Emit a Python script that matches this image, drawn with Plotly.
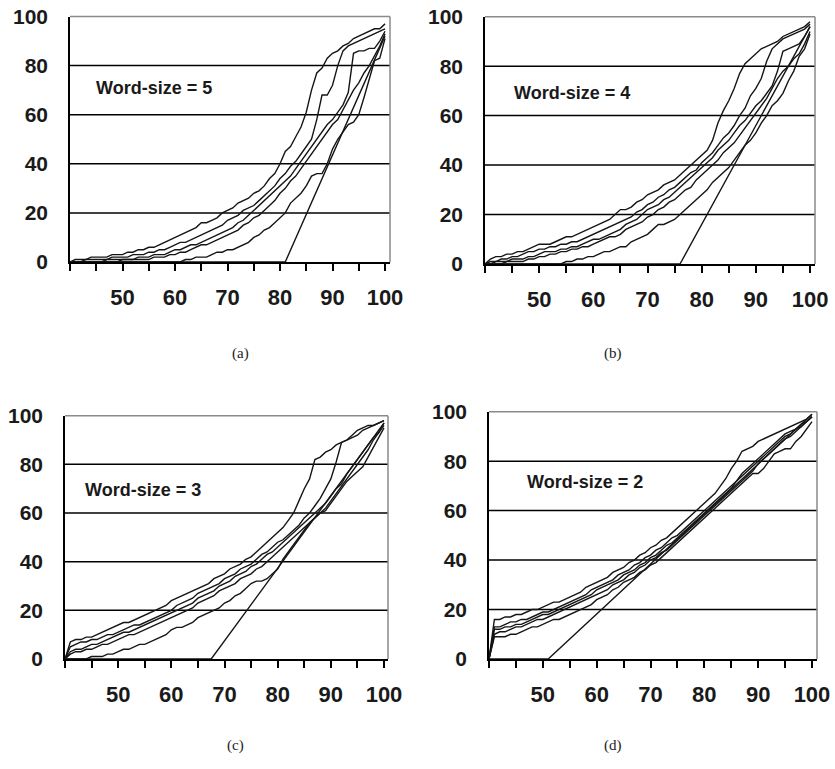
import plotly.graph_objects as go

W, H = 835, 769

# ---------------- data (x = 40 .. 100) ----------------
X = list(range(40, 101))
X_TICKS = list(range(40, 101, 5))
X_TICK_TEXT = ["" if v % 10 or v == 40 else str(v) for v in X_TICKS]
Y_TICKS = [0, 20, 40, 60, 80, 100]
GRID_Y = [20, 40, 60, 80]

# Word-size = 5
A5 = [0, 1,1,1,2,2,2,2,3,3,3, 4,4,5,5,6,6,7,8,9,10, 11,12,13,14,16,16,17,18,20,21,
      22,24,25,26,28,29,31,34,36,40, 45,47,51,55,61,70,77,79,83,85, 86,88,89,91,92,93,94,95,95,97]
B5 = [0, 0,0,1,1,1,1,1,2,2,2, 2,3,3,3,4,4,5,5,6,7, 8,8,9,10,11,12,13,14,15,17,
      18,19,21,22,23,25,27,29,31,34, 36,39,41,44,47,50,58,68,68,72, 80,86,88,89,90,91,92,93,94,95]
C5 = [0, 0,0,0,0,0,0,1,1,1,1, 1,1,2,2,2,3,3,3,4,5, 5,6,7,7,8,9,10,11,12,13,
      14,16,17,19,21,23,25,27,29,31, 33,35,38,41,44,47,50,53,56,58, 61,64,69,85,86,86,87,87,90,94]
D5 = [0, 0,0,0,0,0,0,0,0,0,1, 1,1,1,1,1,2,2,2,3,3, 4,4,5,6,7,7,8,9,10,11,
      12,13,15,16,18,19,21,23,25,28, 30,33,35,38,41,44,47,50,53,56, 58,62,66,70,73,77,80,84,88,93]
E5 = [0, 0,0,0,0,0,0,0,0,0,0, 0,0,0,0,0,0,0,0,0,0, 0,1,1,2,2,2,3,4,4,5,
      5,6,7,8,10,11,13,14,16,18, 20,24,26,28,31,35,36,36,40,46, 50,53,56,57,60,67,75,82,83,91]
F5_X = [40, 81, 100]
F5_Y = [0, 0, 92]

# Word-size = 4
A4 = [0, 2,3,3,4,4,5,5,6,7,8, 8,8,9,10,11,11,12,13,14,15, 16,17,18,20,22,22,23,25,26,28,
      29,30,32,33,34,36,38,40,42,44, 46,50,57,62,66,71,77,81,83,85, 87,88,89,90,92,93,94,95,96,98]
B4 = [0, 1,1,2,2,3,3,4,5,5,6, 6,7,7,8,8,9,9,10,11,12, 13,14,15,16,17,18,19,21,22,24,
      25,27,28,30,31,33,35,37,38,41, 43,45,48,51,53,56,60,63,68,71, 75,82,87,89,91,92,93,94,95,97]
C4 = [0, 0,1,1,1,2,2,2,3,3,4, 5,5,5,6,6,7,7,8,9,10, 10,11,12,13,14,16,17,18,20,22,
      23,24,26,27,29,31,33,35,37,39, 41,43,46,48,50,53,56,58,61,64, 66,69,72,78,86,87,88,89,92,96]
D4 = [0, 0,0,0,1,1,1,1,2,2,3, 3,4,4,5,5,6,6,7,7,8, 9,10,11,11,12,14,15,16,17,19,
      20,22,23,25,26,28,30,31,34,36, 38,40,42,45,47,49,52,55,58,61, 64,67,71,75,78,80,83,85,89,94]
E4 = [0, 0,0,0,0,0,0,0,0,0,0, 0,0,0,0,1,1,2,2,3,3, 4,5,5,6,7,7,9,10,11,12,
      14,16,16,17,18,20,22,24,26,28, 30,33,35,37,39,42,45,48,50,53, 57,60,64,66,69,74,78,84,87,93]
F4_X = [40, 76, 100]
F4_Y = [0, 0, 96]

# Word-size = 3
A3 = [0, 7,8,8,9,9,10,11,12,13,14, 15,15,16,17,18,19,20,21,22,24, 25,26,27,28,29,30,31,33,34,35,
      37,38,39,41,42,44,46,48,50,52, 54,57,60,65,70,74,82,83,85,86, 88,89,90,92,94,95,96,96,97,98]
B3 = [0, 5,6,7,7,8,8,9,10,10,11, 12,13,14,14,15,16,17,18,19,20, 22,23,24,25,27,28,29,30,31,33,
      34,35,37,38,39,41,43,44,46,48, 49,51,53,55,58,60,63,66,70,74, 81,89,90,91,92,94,95,96,97,98]
C3 = [0, 3,4,4,5,6,6,7,8,9,10, 11,11,12,13,14,15,16,17,18,19, 20,21,22,23,25,26,27,28,30,31,
      32,34,35,36,38,39,41,43,44,46, 48,50,52,54,56,58,60,62,64,67, 70,72,76,79,82,85,88,91,93,97]
D3 = [0, 2,3,3,4,4,5,6,6,7,8, 9,10,10,11,12,13,14,15,16,17, 18,19,20,21,23,24,25,26,28,29,
      30,31,33,34,35,37,38,40,42,44, 46,48,50,52,54,56,58,60,62,65, 68,71,74,77,80,83,86,90,93,96]
E3 = [0, 0,0,0,0,1,1,1,2,2,3, 4,4,5,6,6,7,8,9,10,12, 13,13,14,15,17,18,19,20,21,23,
      24,26,27,29,31,32,32,33,35,37, 41,44,47,50,53,56,58,60,61,64, 67,70,73,75,77,79,83,87,91,95]
F3_X = [40, 67.5, 100]
F3_Y = [0, 0, 97]

# Word-size = 2
A2 = [0, 16,16,17,17,18,18,19,20,20,21, 22,23,23,24,25,26,27,29,30,31, 32,33,35,36,37,39,40,42,43,45,
      46,48,49,51,53,55,57,59,61,63, 65,67,70,73,77,80,84,85,86,88, 89,90,91,92,93,94,95,96,97,99]
B2 = [0, 13,13,14,15,15,16,16,17,18,19, 19,20,21,22,23,24,25,26,28,29, 30,31,32,34,35,36,38,39,41,42,
      44,45,47,49,50,52,54,56,58,60, 62,64,66,68,70,72,75,77,79,81, 83,85,87,89,91,92,93,94,96,98]
C2 = [0, 12,12,13,13,14,14,15,16,17,18, 18,19,20,21,22,23,24,25,26,28, 29,30,31,32,34,35,36,38,39,41,
      42,44,46,47,49,51,53,55,57,59, 61,63,65,67,69,72,74,76,78,80, 82,84,86,88,90,91,93,95,96,98]
D2 = [0, 10,11,11,12,13,13,14,15,16,16, 17,18,19,20,21,22,23,24,25,26, 27,28,30,31,32,34,35,37,38,40,
      41,43,44,46,48,50,52,54,56,58, 60,62,64,66,68,70,72,74,76,79, 81,83,85,87,89,90,92,94,96,98]
E2 = [0, 9,9,9,10,10,11,12,13,13,14, 15,16,16,17,18,19,20,21,22,24, 25,26,28,29,31,32,33,35,36,38,
      39,41,43,45,47,49,51,53,55,57, 59,61,63,65,67,69,71,73,75,75, 77,80,83,84,85,85,88,90,93,96]
F2_X = [40, 51, 100]
F2_Y = [0, 0, 99]

LABELS = ["Word-size = 5", "Word-size = 4", "Word-size = 3", "Word-size = 2"]
CAPTIONS = ["(a)", "(b)", "(c)", "(d)"]

# ---------------- layout geometry (pixels) ----------------
panels = [
    dict(curves=[A5, B5, C5, D5, E5], fx=F5_X, fy=F5_Y, box=(70, 390, 16.5, 262), xmax=100.95,
         ann=(94, 88), cap=(240, 353)),
    dict(curves=[A4, B4, C4, D4, E4], fx=F4_X, fy=F4_Y, box=(485, 815, 16.7, 264), xmax=100.92,
         ann=(512, 93), cap=(613, 353)),
    dict(curves=[A3, B3, C3, D3, E3], fx=F3_X, fy=F3_Y, box=(65, 388, 415.7, 659), xmax=100.75,
         ann=(83, 490), cap=(236, 745)),
    dict(curves=[A2, B2, C2, D2, E2], fx=F2_X, fy=F2_Y, box=(489, 817, 411.7, 659), xmax=100.93,
         ann=(525, 482), cap=(613, 745)),
]

LINE_COLOR = "#151515"
TICK_FONT = dict(family="Liberation Sans, Arial, sans-serif", size=21, color="#1a1a1a", weight="bold")
XTICK_FONT = dict(family="Liberation Sans, Arial, sans-serif", size=22, color="#1a1a1a", weight="bold")

fig = go.Figure()
layout = dict(width=W, height=H, margin=dict(l=0, r=0, t=0, b=0, autoexpand=False),
              paper_bgcolor="white", plot_bgcolor="white", showlegend=False)
shapes, annotations = [], []

for i, p in enumerate(panels):
    n = i + 1
    xa = "x" if n == 1 else f"x{n}"
    ya = "y" if n == 1 else f"y{n}"
    l, r, t, b = p["box"]
    layout[f"xaxis{'' if n == 1 else n}"] = dict(
        domain=[l / W, r / W], range=[40, p["xmax"]], anchor=ya,
        tickvals=X_TICKS, ticktext=X_TICK_TEXT, ticks="outside", ticklen=7,
        tickwidth=1.5, tickcolor="black", showline=True, linecolor="black",
        linewidth=1.5, showgrid=False, zeroline=False, tickfont=XTICK_FONT,
        ticklabelstandoff=8,
    )
    layout[f"yaxis{'' if n == 1 else n}"] = dict(
        domain=[1 - b / H, 1 - t / H], range=[0, 100], anchor=xa,
        tickvals=Y_TICKS, ticks="", showline=True, linecolor="black",
        linewidth=1.5, showgrid=False, zeroline=False, tickfont=TICK_FONT,
        ticklabelstandoff=16,
    )
    for g in GRID_Y:
        shapes.append(dict(type="line", xref=f"{xa} domain", yref=ya, x0=0, x1=1, y0=g, y1=g,
                           line=dict(color="black", width=1.5), layer="below"))
    shapes.append(dict(type="line", xref=f"{xa} domain", yref=f"{ya} domain", x0=0, x1=1, y0=1, y1=1,
                       line=dict(color="#8a8a8a", width=1.5), layer="above"))
    shapes.append(dict(type="line", xref=f"{xa} domain", yref=f"{ya} domain", x0=1, x1=1, y0=0, y1=1,
                       line=dict(color="#8a8a8a", width=1.5), layer="above"))
    for c in p["curves"]:
        fig.add_trace(go.Scatter(x=X, y=c, mode="lines", xaxis=xa, yaxis=ya,
                                 line=dict(color=LINE_COLOR, width=1.4), hoverinfo="skip"))
    fig.add_trace(go.Scatter(x=p["fx"], y=p["fy"], mode="lines", xaxis=xa, yaxis=ya,
                             line=dict(color=LINE_COLOR, width=1.4), hoverinfo="skip"))
    ax, ay = p["ann"]
    annotations.append(dict(text=LABELS[i], xref="paper", yref="paper", x=ax / W, y=1 - ay / H,
                            xanchor="left", yanchor="middle", showarrow=False,
                            font=dict(family="Liberation Sans, Arial, sans-serif", size=18,
                                      color="#1a1a1a", weight="bold")))
    cx, cy = p["cap"]
    annotations.append(dict(text=CAPTIONS[i], xref="paper", yref="paper", x=cx / W, y=1 - cy / H,
                            xanchor="center", yanchor="middle", showarrow=False,
                            font=dict(family="Liberation Serif, Times New Roman, serif", size=15,
                                      color="#222")))

layout["shapes"] = shapes
layout["annotations"] = annotations
fig.update_layout(**layout)
# remove the browser's default 8px page margin so the figure sits at the window's corner
fig.write_html("out.html", config={"displayModeBar": False},
               post_script="document.body.style.margin='0px';document.body.style.overflow='hidden';")
